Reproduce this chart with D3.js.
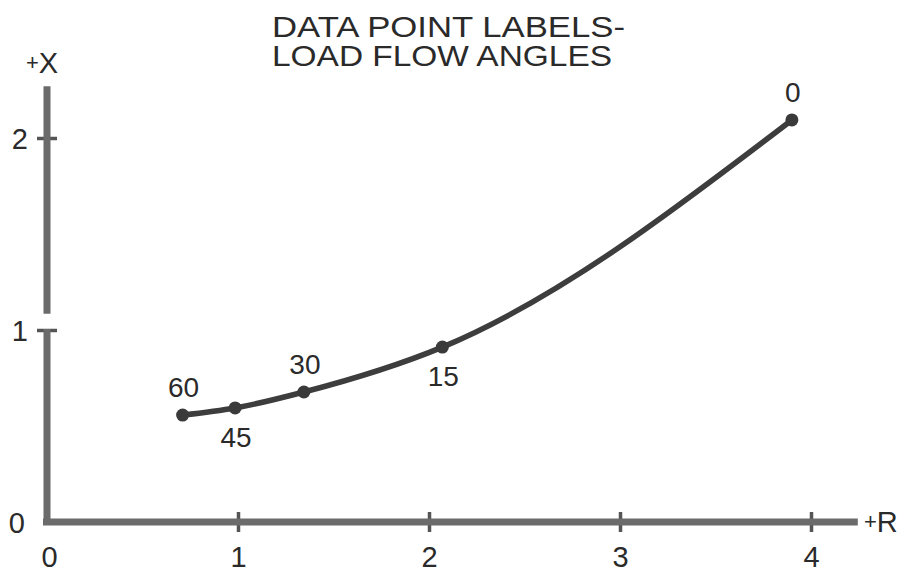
<!DOCTYPE html>
<html lang="en">
<head>
<meta charset="UTF-8">
<title>Data point labels - load flow angles</title>
<script src="https://d3js.org/d3.v7.min.js"></script>
<style>
  body { margin: 0; background: #fff; }
  svg text { font-family: "Liberation Sans", Arial, sans-serif; fill: #2a2a2a; }
  .tick line { stroke: #555; stroke-width: 3.5; }
  .tick text { font-size: 29px; }
</style>
</head>
<body>
<svg id="chart" width="907" height="572"></svg>
<script>
// values
const rValues = [0.71, 0.985, 1.345, 2.07, 3.9];
const xValues = [0.557, 0.594, 0.677, 0.911, 2.094];
const angleLabels = ["60", "45", "30", "15", "0"];
const labelSide = ["above", "below", "above", "below", "above"];
const rTicks = [0, 1, 2, 3, 4];
const xTicks = [0, 1, 2];
const titleLines = ["DATA POINT LABELS-", "LOAD FLOW ANGLES"];

const svg = d3.select("#chart");

const x = d3.scaleLinear().domain([0, 4]).range([47, 811]);
const y = d3.scaleLinear().domain([0, 2]).range([522, 138]);

// title
svg.selectAll("text.title")
  .data(titleLines)
  .enter().append("text")
  .attr("class", "title")
  .attr("x", 272)
  .attr("y", (d, i) => 37 + i * 29)
  .attr("font-size", 29)
  .attr("textLength", (d, i) => i === 0 ? 353 : 340)
  .attr("lengthAdjust", "spacingAndGlyphs")
  .text(d => d);

// bottom axis ticks + labels
const xAxis = svg.append("g")
  .attr("transform", `translate(0,${y(0)})`)
  .call(d3.axisBottom(x).tickValues(rTicks).tickFormat(d3.format("d"))
    .tickSizeInner(10).tickSizeOuter(0).tickPadding(14));
xAxis.select(".domain").remove();
xAxis.selectAll(".tick line").attr("y1", -10).attr("y2", 10)
  .attr("display", d => d === 0 ? "none" : null);
xAxis.selectAll(".tick text").attr("dx", d => d === 0 ? 2 : 0);

// left axis ticks + labels
const yAxis = svg.append("g")
  .attr("transform", `translate(${x(0)},0)`)
  .call(d3.axisLeft(y).tickValues(xTicks).tickFormat(d3.format("d"))
    .tickSizeInner(10).tickSizeOuter(0).tickPadding(9));
yAxis.select(".domain").remove();
yAxis.selectAll(".tick line").attr("x1", -10).attr("x2", 10)
  .attr("display", d => d === 0 ? "none" : null);
yAxis.selectAll(".tick text").attr("dy", "0.36em").attr("dx", d => d === 0 ? -3 : 0);

// thick axis lines (vertical one broken just above 1)
const axisColor = "#6b6b6b";
svg.append("line")
  .attr("x1", x(0) - 4).attr("x2", x(4.245))
  .attr("y1", y(0)).attr("y2", y(0))
  .attr("stroke", axisColor).attr("stroke-width", 7);
svg.append("line")
  .attr("x1", x(0)).attr("x2", x(0))
  .attr("y1", y(0) + 3).attr("y2", y(1.005))
  .attr("stroke", axisColor).attr("stroke-width", 7);
svg.append("line")
  .attr("x1", x(0)).attr("x2", x(0))
  .attr("y1", y(1.085)).attr("y2", y(2.27))
  .attr("stroke", axisColor).attr("stroke-width", 7);

// axis names
svg.append("text").attr("x", 26).attr("y", 73).attr("font-size", 29)
  .html('<tspan font-size="22" dy="-3">+</tspan><tspan dy="3">X</tspan>');
svg.append("text").attr("x", 864).attr("y", 532).attr("font-size", 29)
  .html('<tspan font-size="22" dy="-3">+</tspan><tspan dy="3">R</tspan>');

// curve
const pts = rValues.map((r, i) => [r, xValues[i]]);
const line = d3.line()
  .x(d => x(d[0]))
  .y(d => y(d[1]))
  .curve(d3.curveMonotoneX);

svg.append("path")
  .datum(pts)
  .attr("d", line)
  .attr("fill", "none")
  .attr("stroke", "#3d3d3d")
  .attr("stroke-width", 5.5)
  .attr("stroke-linecap", "round");

svg.selectAll("circle.pt")
  .data(pts)
  .enter().append("circle")
  .attr("class", "pt")
  .attr("cx", d => x(d[0]))
  .attr("cy", d => y(d[1]))
  .attr("r", 6.5)
  .attr("fill", "#3a3a3a");

svg.selectAll("text.lbl")
  .data(pts)
  .enter().append("text")
  .attr("class", "lbl")
  .attr("x", d => x(d[0]) + 1)
  .attr("y", (d, i) => y(d[1]) + (labelSide[i] === "above" ? -18 : 39))
  .attr("text-anchor", "middle")
  .attr("font-size", 28)
  .text((d, i) => angleLabels[i]);
</script>
</body>
</html>
